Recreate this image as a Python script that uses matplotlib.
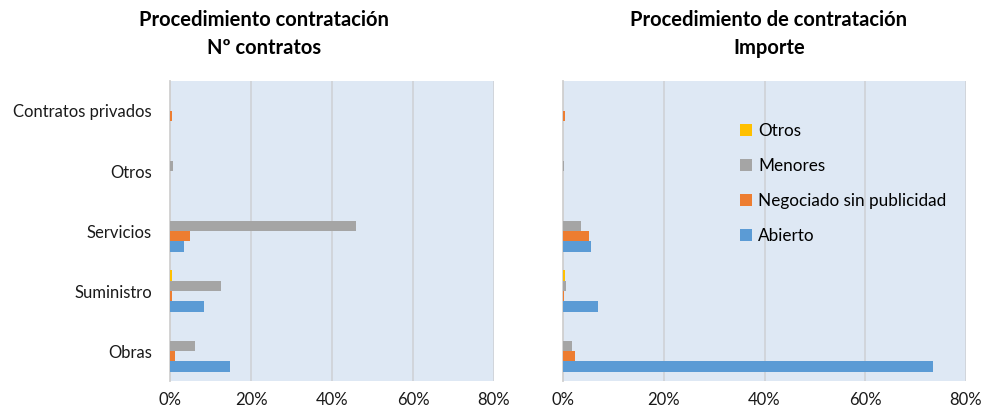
import numpy as np
import matplotlib
matplotlib.use('Agg')
import matplotlib.pyplot as plt
from matplotlib.ticker import PercentFormatter

plt.rcParams['font.family'] = ['Lato', 'DejaVu Sans']

categories = ['Obras', 'Suministro', 'Servicios', 'Otros', 'Contratos privados']
series = ['Abierto', 'Negociado sin publicidad', 'Menores', 'Otros']
colors = ['#5B9BD5', '#ED7D31', '#A5A5A5', '#FFC000']

# % sobre el total
num_abierto = [14.8, 8.4, 3.5, 0.0, 0.0]
num_negociado = [1.2, 0.4, 4.9, 0.0, 0.5]
num_menores = [6.2, 12.5, 45.9, 0.7, 0.0]
num_otros = [0.0, 0.5, 0.0, 0.0, 0.0]

imp_abierto = [73.5, 7.0, 5.6, 0.0, 0.0]
imp_negociado = [2.4, 0.2, 5.1, 0.0, 0.3]
imp_menores = [1.8, 0.5, 3.55, 0.2, 0.0]
imp_otros = [0.0, 0.4, 0.0, 0.0, 0.0]

xticks = [0, 20, 40, 60, 80]

fig = plt.figure(figsize=(9.85, 4.16), dpi=100)
ax1 = fig.add_axes([170/985, 1-381/416, 324/985, 300/416])
ax2 = fig.add_axes([563/985, 1-381/416, 403/985, 300/416])

y = np.arange(len(categories))
h = 0.171

def draw(ax, data):
    for i, (vals, c, name) in enumerate(zip(data, colors, series)):
        ax.barh(y + (i - 1.5) * h, vals, height=h, color=c, label=name, zorder=3)
    ax.set_facecolor('#DEE8F4')
    ax.set_xlim(0, 80)
    ax.set_ylim(-0.5, 4.5)
    ax.set_xticks(xticks)
    ax.xaxis.set_major_formatter(PercentFormatter(decimals=0))
    ax.grid(axis='x', color='#D0D4D9', linewidth=1.3, zorder=1)
    for s in ['top', 'right', 'bottom']:
        ax.spines[s].set_visible(False)
    ax.spines['left'].set_color('#D0D0D0')
    ax.spines['left'].set_linewidth(1.3)
    ax.tick_params(length=0, labelsize=12, colors='#1a1a1a', pad=8)

draw(ax1, [num_abierto, num_negociado, num_menores, num_otros])
draw(ax2, [imp_abierto, imp_negociado, imp_menores, imp_otros])

ax1.set_yticks(y)
ax1.set_yticklabels(categories)
ax1.tick_params(axis='y', pad=13)
ax2.set_yticks([])

fig.text(264/985, 1-34/416, 'Procedimiento contratación\nNº contratos', ha='center', va='center',
         fontsize=14.5, fontweight='bold', linespacing=1.55)
fig.text(769/985, 1-34/416, 'Procedimiento de contratación\nImporte', ha='center', va='center',
         fontsize=14.5, fontweight='bold', linespacing=1.55)

handles, labels = ax2.get_legend_handles_labels()
ax2.legend(handles[::-1], labels[::-1], loc='upper left', bbox_to_anchor=(0.40, 0.91),
           frameon=False, fontsize=12.3, handlelength=0.7, handleheight=0.7,
           handletextpad=0.4, labelspacing=1.1)

fig.savefig('out.png', dpi=100)
